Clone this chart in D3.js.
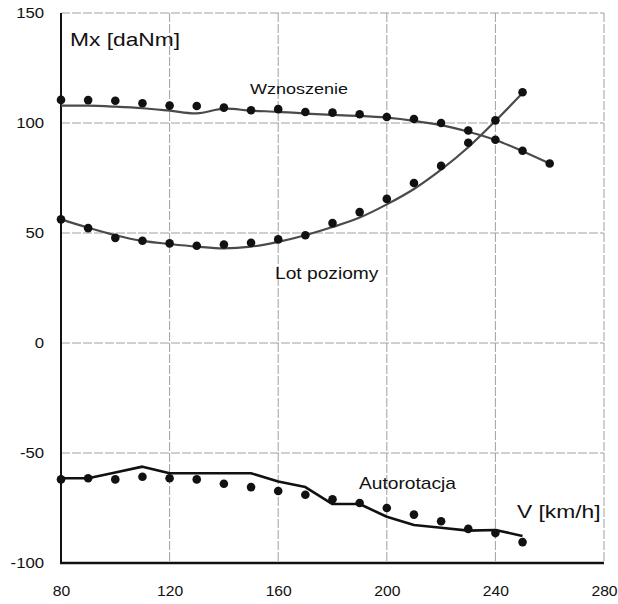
<!DOCTYPE html>
<html>
<head>
<meta charset="utf-8">
<script src="https://cdn.jsdelivr.net/npm/d3@7/dist/d3.min.js"></script>
<style>
  html, body { margin: 0; padding: 0; background: #fff; }
  svg { display: block; font-family: "Liberation Sans", Arial, sans-serif; }
</style>
</head>
<body>
<svg id="chart" width="618" height="604"></svg>
<script>
// Speed V [km/h]
const speeds = [80, 90, 100, 110, 120, 130, 140, 150, 160, 170, 180, 190, 200, 210, 220, 230, 240, 250, 260];

// Wznoszenie (climb): measured points and fitted curve
const climbPoints = [110.5, 110.4, 110.1, 109.0, 107.9, 107.7, 107.0, 105.8, 106.3, 105.0, 104.7, 104.0, 102.7, 101.8, 100.0, 96.6, 92.4, 87.4, 81.6];
const climbCurve  = [107.9, 107.9, 107.4, 106.7, 105.6, 104.4, 106.5, 105.6, 105.1, 104.3, 103.7, 103.2, 102.4, 101.0, 99.0, 96.0, 92.3, 87.2, 81.6];

// Lot poziomy (level flight), up to 250 km/h
const levelPoints = [56.2, 52.2, 47.8, 46.5, 45.3, 44.2, 44.8, 45.6, 47.1, 49.0, 54.5, 59.5, 65.5, 72.7, 80.5, 91.0, 101.2, 114.0];
const levelCurve  = [56.2, 52.4, 49.0, 46.4, 45.0, 43.8, 43.0, 43.8, 46.0, 49.0, 52.7, 57.0, 63.0, 70.0, 78.8, 89.0, 100.9, 113.6];

// Autorotacja (autorotation), up to 250 km/h
const autoPoints = [-62.0, -61.5, -62.0, -60.8, -61.5, -62.0, -64.0, -65.5, -67.3, -69.0, -71.0, -72.7, -75.0, -78.0, -81.0, -84.5, -86.4, -90.5];
const autoCurve  = [-61.5, -61.5, -58.9, -56.2, -59.2, -59.2, -59.2, -59.2, -63.0, -65.5, -73.2, -73.2, -79.0, -82.7, -84.0, -85.3, -85.0, -87.7];

// Axis ticks
const xTicks = [80, 120, 160, 200, 240, 280];
const yTicks = [-100, -50, 0, 50, 100, 150];

const svg = d3.select("#chart");
const x = d3.scaleLinear().domain([80, 280]).range([61, 604]);
const y = d3.scaleLinear().domain([-100, 150]).range([563, 13]);

const ink = "#111";
const tickLabel = d => String(d);

// Grid (dashed, light) including the top and right frame
const grid = svg.append("g").attr("stroke", "#a0a0a0").attr("stroke-width", 1).attr("stroke-dasharray", "9,2");
grid.selectAll("line.h").data(yTicks.filter(v => v > -100)).join("line")
  .attr("class", "h")
  .attr("x1", x(80)).attr("x2", x(280))
  .attr("y1", d => y(d)).attr("y2", d => y(d));
grid.selectAll("line.v").data(xTicks.filter(v => v > 80)).join("line")
  .attr("class", "v")
  .attr("x1", d => x(d)).attr("x2", d => x(d))
  .attr("y1", y(150)).attr("y2", y(-100));

// Axes
const yAxis = svg.append("g").attr("transform", `translate(${x(80)},0)`)
  .call(d3.axisLeft(y).tickValues(yTicks).tickSize(0).tickPadding(14).tickFormat(tickLabel));
yAxis.select(".domain").remove();
yAxis.selectAll("text")
  .attr("font-size", 14).attr("fill", ink)
  .attr("font-family", "'Liberation Sans', Arial, sans-serif")
  .attr("transform", "scale(1.2,1)");

const xAxis = svg.append("g").attr("transform", `translate(0,${y(-100)})`)
  .call(d3.axisBottom(x).tickValues(xTicks).tickSize(0).tickFormat(tickLabel));
xAxis.select(".domain").remove();
xAxis.selectAll("text")
  .attr("font-size", 14).attr("fill", ink)
  .attr("font-family", "'Liberation Sans', Arial, sans-serif")
  .attr("y", 33).attr("dy", 0)
  .attr("transform", "scale(1.12,1)");

// Solid axis lines
svg.append("line").attr("x1", x(80)).attr("x2", x(80)).attr("y1", y(150)).attr("y2", y(-100))
  .attr("stroke", ink).attr("stroke-width", 2);
svg.append("line").attr("x1", x(80) - 1).attr("x2", x(280)).attr("y1", y(-100)).attr("y2", y(-100))
  .attr("stroke", ink).attr("stroke-width", 2.5);

// Curves
const smooth = d3.line().x(d => x(d[0])).y(d => y(d[1])).curve(d3.curveCatmullRom.alpha(0.5));
const straight = d3.line().x(d => x(d[0])).y(d => y(d[1]));
const pairs = vals => vals.map((v, i) => [speeds[i], v]);

svg.append("path").attr("d", smooth(pairs(climbCurve)))
  .attr("fill", "none").attr("stroke", "#4a4a4a").attr("stroke-width", 2.2);
svg.append("path").attr("d", smooth(pairs(levelCurve)))
  .attr("fill", "none").attr("stroke", "#4a4a4a").attr("stroke-width", 2.2);
svg.append("path").attr("d", straight(pairs(autoCurve)))
  .attr("fill", "none").attr("stroke", ink).attr("stroke-width", 2.6).attr("stroke-linejoin", "round");

// Measured points
[climbPoints, levelPoints, autoPoints].forEach(vals => {
  svg.append("g").selectAll("circle").data(pairs(vals)).join("circle")
    .attr("cx", d => x(d[0])).attr("cy", d => y(d[1])).attr("r", 4.3)
    .attr("fill", ink);
});

// Annotations
const labels = [
  { text: "Mx [daNm]", px: 70, py: 46, size: 19 },
  { text: "Wznoszenie", px: 250, py: 94, size: 15 },
  { text: "Lot poziomy", px: 275, py: 279, size: 16 },
  { text: "Autorotacja", px: 359, py: 489, size: 16 },
  { text: "V [km/h]", px: 517, py: 518, size: 19 }
];
svg.append("g").selectAll("text").data(labels).join("text")
  .attr("transform", d => `translate(${d.px},${d.py}) scale(1.2,1)`)
  .attr("font-size", d => d.size)
  .attr("fill", ink)
  .text(d => d.text);
</script>
</body>
</html>
